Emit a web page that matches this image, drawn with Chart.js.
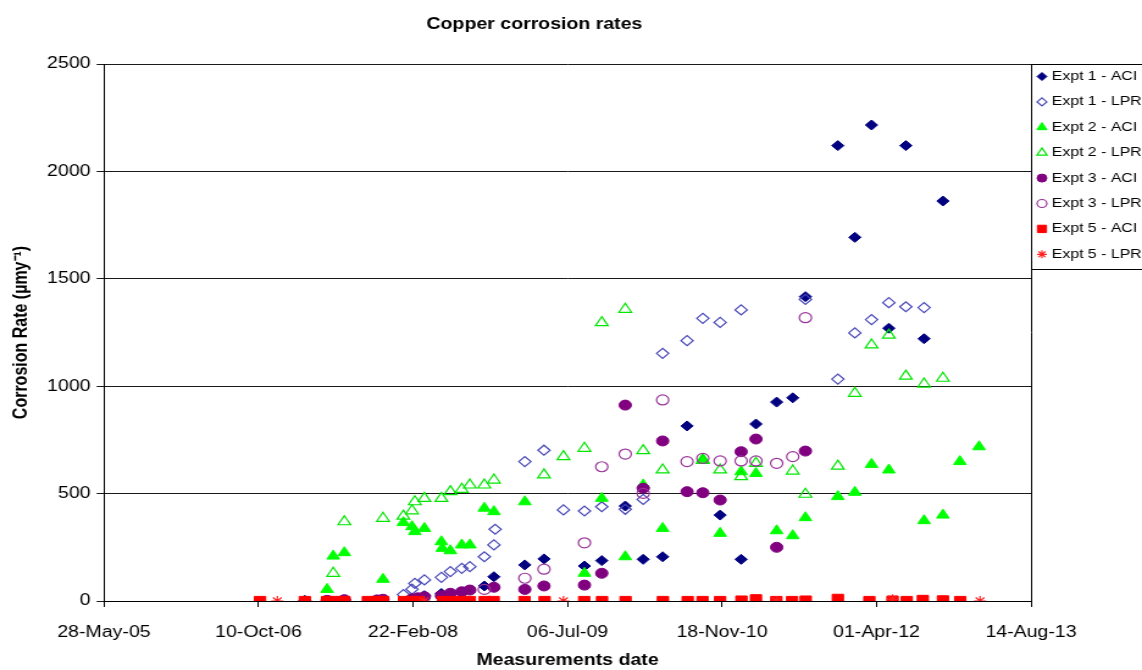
<!DOCTYPE html>
<html>
<head>
<meta charset="utf-8">
<title>Copper corrosion rates</title>
<script src="https://cdn.jsdelivr.net/npm/chart.js@4.4.0/dist/chart.umd.min.js"></script>
<style>
    html, body { margin: 0; padding: 0; background: #fff; overflow: hidden; }
    /* chart is drawn narrow and stretched sideways, like the exported sheet chart */
    #wrap { width: 936px; height: 670px; transform: scaleX(1.2201); transform-origin: 0 0; }
</style>
</head>
<body>
<div id="wrap"><canvas id="corrosionChart"></canvas></div>
<script>
// measurement dates are spreadsheet serial days (38500 = 28-May-05)
const dateTicks = [38500, 39000, 39500, 40000, 40500, 41000, 41500];
const rateTicks = [0, 500, 1000, 1500, 2000, 2500];

const expt1AciDays = [39150, 39278, 39384, 39497, 39537, 39592, 39731, 39762, 39862, 39924, 40055, 40111, 40187, 40245, 40308, 40387, 40494, 40562, 40610, 40677, 40729, 40770, 40875, 40930, 40984, 41040, 41095, 41154, 41215];
const expt1AciRates = [3, 5, 5, 12, 25, 35, 70, 113, 168, 196, 163, 188, 442, 194, 206, 815, 400, 194, 824, 926, 946, 1417, 2120, 1693, 2216, 1270, 2120, 1221, 1862];

const expt1LprDays = [39469, 39497, 39506, 39537, 39592, 39621, 39658, 39684, 39731, 39762, 39766, 39862, 39924, 39987, 40055, 40111, 40187, 40245, 40308, 40387, 40438, 40494, 40562, 40770, 40875, 40930, 40984, 41040, 41095, 41154];
const expt1LprRates = [30, 55, 82, 98, 110, 137, 152, 160, 206, 261, 334, 649, 702, 424, 419, 439, 427, 473, 1153, 1212, 1316, 1297, 1355, 1404, 1033, 1248, 1310, 1389, 1370, 1366];

const expt2AciDays = [39222, 39242, 39278, 39403, 39469, 39497, 39506, 39537, 39592, 39595, 39621, 39658, 39684, 39731, 39762, 39862, 40055, 40111, 40187, 40245, 40308, 40438, 40494, 40562, 40610, 40677, 40729, 40770, 40875, 40930, 40984, 41040, 41154, 41215, 41270, 41332];
const expt2AciRates = [54, 209, 225, 101, 365, 346, 323, 338, 276, 245, 234, 261, 261, 432, 416, 462, 129, 478, 206, 540, 338, 660, 315, 602, 594, 327, 304, 388, 486, 506, 636, 610, 374, 400, 649, 718];

const expt2LprDays = [39242, 39278, 39403, 39469, 39497, 39506, 39537, 39592, 39621, 39658, 39684, 39731, 39762, 39924, 39987, 40055, 40111, 40187, 40245, 40308, 40438, 40494, 40562, 40610, 40729, 40770, 40875, 40930, 40984, 41040, 41095, 41154, 41215];
const expt2LprRates = [129, 369, 385, 395, 420, 462, 478, 478, 509, 520, 540, 540, 563, 587, 672, 711, 1296, 1358, 700, 610, 655, 610, 579, 641, 605, 497, 628, 967, 1192, 1238, 1047, 1010, 1037];

const expt3AciDays = [39222, 39278, 39384, 39403, 39497, 39516, 39537, 39592, 39621, 39658, 39684, 39762, 39862, 39924, 40055, 40111, 40187, 40245, 40308, 40387, 40438, 40494, 40562, 40610, 40677, 40770];
const expt3AciRates = [3, 6, 5, 8, 10, 15, 20, 25, 36, 43, 51, 64, 54, 70, 74, 129, 912, 525, 745, 509, 504, 470, 695, 754, 250, 698];

const expt3LprDays = [39731, 39862, 39924, 40055, 40111, 40187, 40245, 40308, 40387, 40438, 40494, 40562, 40610, 40677, 40729, 40770];
const expt3LprRates = [54, 106, 148, 271, 625, 684, 501, 936, 649, 664, 652, 652, 652, 641, 672, 1319];

const expt5AciDays = [39005, 39150, 39222, 39249, 39278, 39354, 39383, 39403, 39471, 39495, 39516, 39597, 39623, 39655, 39684, 39732, 39761, 39861, 39926, 40054, 40112, 40188, 40309, 40389, 40437, 40494, 40563, 40610, 40676, 40727, 40771, 40875, 40977, 41052, 41098, 41150, 41215, 41271];
const expt5AciRates = [0, 0, 0, 0, 0, 0, 0, 0, 0, 0, 0, 0, 0, 0, 0, 0, 0, 0, 0, 0, 0, 0, 0, 0, 0, 0, 2, 8, 0, 0, 2, 10, 0, 2, 0, 5, 3, 0];

const expt5LprDays = [39061, 39536, 39987, 40676, 41052, 41335];
const expt5LprRates = [0, 0, 0, 0, 8, 0];

const MONTHS = ['Jan', 'Feb', 'Mar', 'Apr', 'May', 'Jun', 'Jul', 'Aug', 'Sep', 'Oct', 'Nov', 'Dec'];
const FONT = '"Liberation Sans", Arial, sans-serif';

function serialToLabel(serial) {
    const d = new Date((serial - 25569) * 86400000);
    const dd = String(d.getUTCDate()).padStart(2, '0');
    return dd + '-' + MONTHS[d.getUTCMonth()] + '-' + String(d.getUTCFullYear()).slice(2);
}

function toPoints(days, rates) {
    return days.map((d, i) => ({ x: d, y: rates[i] }));
}

function series(label, days, rates, shape, colour, filled, radius) {
    return {
        label: label,
        data: toPoints(days, rates),
        pointStyle: shape,
        pointRadius: radius,
        pointHoverRadius: radius,
        backgroundColor: filled ? colour : 'rgba(0,0,0,0)',
        borderColor: colour,
        borderWidth: filled ? 1 : 1.2
    };
}

const datasets = [
    series('Expt 1 - ACI', expt1AciDays, expt1AciRates, 'rectRot', '#000080', true, 5),
    series('Expt 1 - LPR', expt1LprDays, expt1LprRates, 'rectRot', '#4848b8', false, 5),
    series('Expt 2 - ACI', expt2AciDays, expt2AciRates, 'triangle', '#00ff00', true, 6),
    series('Expt 2 - LPR', expt2LprDays, expt2LprRates, 'triangle', '#00e600', false, 6),
    series('Expt 3 - ACI', expt3AciDays, expt3AciRates, 'circle', '#800080', true, 5),
    series('Expt 3 - LPR', expt3LprDays, expt3LprRates, 'circle', '#9a359a', false, 5),
    series('Expt 5 - ACI', expt5AciDays, expt5AciRates, 'rect', '#ff0000', true, 6.5),
    series('Expt 5 - LPR', expt5LprDays, expt5LprRates, 'star', '#ff2020', false, 5)
];
// later series sit on top of earlier ones
datasets.forEach((ds, i) => { ds.order = datasets.length - i; });

// chart title, right edge of the plot and the boxed legend
const titleAndLegend = {
    id: 'titleAndLegend',
    afterDraw(chart) {
        const ctx = chart.ctx;
        const area = chart.chartArea;
        ctx.save();
        ctx.fillStyle = '#000';
        ctx.font = 'bold 16px ' + FONT;
        ctx.textAlign = 'center';
        ctx.textBaseline = 'middle';
        ctx.fillText('Copper corrosion rates', 438, 25);

        ctx.strokeStyle = '#000';
        ctx.lineWidth = 1;
        ctx.beginPath();
        ctx.moveTo(area.right + 0.5, area.top);
        ctx.lineTo(area.right + 0.5, area.bottom);
        ctx.stroke();

        const left = area.right;
        const top = area.top;
        const rowH = 25.4;
        ctx.strokeRect(left + 0.5, top + 0.5, 120, 205);
        chart.data.datasets.forEach((ds, i) => {
            const y = top + 12.5 + i * rowH;
            ctx.fillStyle = ds.backgroundColor;
            ctx.strokeStyle = ds.borderColor;
            ctx.lineWidth = ds.borderWidth;
            Chart.helpers.drawPoint(ctx, {
                pointStyle: ds.pointStyle,
                radius: ds.pointRadius * 0.8,
                borderWidth: ds.borderWidth,
                rotation: 0
            }, left + 9, y);
            ctx.fillStyle = '#000';
            ctx.font = '13px ' + FONT;
            ctx.textAlign = 'left';
            ctx.textBaseline = 'middle';
            ctx.fillText(ds.label, left + 17, y);
        });
        ctx.restore();
    }
};

document.addEventListener('DOMContentLoaded', function() {
    const ctx = document.getElementById('corrosionChart');
    new Chart(ctx.getContext('2d'), {
        type: 'scatter',
        data: { datasets: datasets },
        plugins: [titleAndLegend],
        options: {
            responsive: true,
            maintainAspectRatio: false,
            animation: false,
            layout: { padding: { top: 64, right: 91, bottom: 0, left: 0 } },
            plugins: {
                legend: { display: false },
                title: { display: false },
                tooltip: { enabled: false }
            },
            scales: {
                x: {
                    type: 'linear',
                    min: dateTicks[0],
                    max: dateTicks[dateTicks.length - 1],
                    afterBuildTicks: axis => { axis.ticks = dateTicks.map(v => ({ value: v })); },
                    afterFit: axis => { axis.height = 69; },
                    ticks: {
                        color: '#000',
                        padding: 16,
                        maxRotation: 0,
                        font: { family: FONT, size: 16 },
                        callback: v => serialToLabel(v)
                    },
                    grid: { drawOnChartArea: false, color: '#000', tickLength: 6 },
                    border: { color: '#000' },
                    title: {
                        display: true,
                        text: 'Measurements date',
                        color: '#000',
                        font: { family: FONT, size: 16, weight: 'bold' },
                        padding: { top: 0, bottom: 0 }
                    }
                },
                y: {
                    min: rateTicks[0],
                    max: rateTicks[rateTicks.length - 1],
                    afterBuildTicks: axis => { axis.ticks = rateTicks.map(v => ({ value: v })); },
                    afterFit: axis => { axis.width = 85.2; },
                    ticks: {
                        color: '#000',
                        padding: 5,
                        font: { family: FONT, size: 16 },
                        callback: v => String(v)
                    },
                    grid: { color: '#1a1a1a', lineWidth: 1, tickLength: 6 },
                    border: { color: '#000' },
                    title: {
                        display: true,
                        text: 'Corrosion Rate (µmy⁻¹)',
                        color: '#000',
                        font: { family: FONT, size: 16, weight: 'bold' },
                        padding: { top: 8, bottom: 0 }
                    }
                }
            }
        }
    });
});
</script>
</body>
</html>
